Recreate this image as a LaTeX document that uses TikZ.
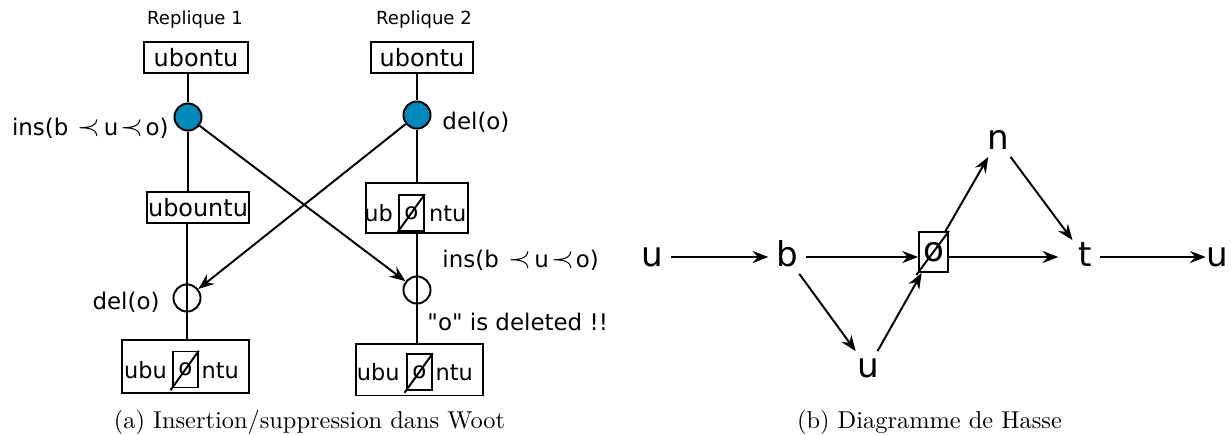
\documentclass[tikz,border=0pt]{standalone}
\usepackage{fontspec}
\setsansfont{DejaVu Sans}[Ligatures=TeXOff]
\usepackage{amssymb}
\usetikzlibrary{positioning, arrows.meta}

\definecolor{opblue}{RGB}{0,137,186}

\newcommand{\crossout}[1]{\draw[line width=0.8pt] ([shift={(-0.7pt,-0.8pt)}]#1.south west) -- (#1.north east);}
\newcommand{\precsym}{{\fontsize{12.5}{12}\selectfont$\prec$}}
\newcommand{\insop}{ins(b\hspace{3.8pt}\precsym\hspace{1.4pt}u\hspace{1pt}\precsym\hspace{0.8pt}o)}

\tikzset{
  wbox/.style={draw, line width=0.8pt, inner sep=0pt, font=\sffamily\fontsize{9.8}{12}\selectfont},
  slot/.style={draw, line width=0.6pt, inner sep=0pt, minimum width=10.3pt, minimum height=14.8pt, font=\sffamily\fontsize{9.4}{11}\selectfont},
  part/.style={inner sep=0pt, text height=7pt, text depth=0pt, font=\sffamily\fontsize{9.2}{11}\selectfont},
  op/.style={circle, draw, line width=0.8pt, minimum size=11.1pt, inner sep=0pt},
  lbl/.style={inner sep=0pt, font=\sffamily\fontsize{9.4}{11}\selectfont},
  letter/.style={inner sep=3pt, text height=7.4pt, text depth=0pt, font=\sffamily\fontsize{14}{16}\selectfont},
  arr/.style={line width=0.8pt, -{Stealth[length=6.5pt, width=5pt, inset=2.2pt]}},
  captext/.style={inner sep=0pt, font=\rmfamily\fontsize{10}{12}\selectfont}
}

\begin{document}
\begin{tikzpicture}[x=0.41pt, y=-0.41pt]
    \useasboundingbox (0,0) rectangle (1232,434);

    % Replicas
    \node[lbl, font=\sffamily\fontsize{7.4}{9}\selectfont] (rep1) at (195,20) {Replique 1};
    \node[lbl, font=\sffamily\fontsize{7.4}{9}\selectfont] (rep2) at (424,20) {Replique 2};

    \node[wbox, minimum width=42.4pt, minimum height=12.7pt] (s1) at (196,57.5) {ubontu};
    \node[wbox, minimum width=42pt, minimum height=12.7pt] (s2) at (422,57.5) {ubontu};

    % Operations
    \node[op, fill=opblue] (ins1) at (188,117) {};
    \node[op, fill=opblue] (del2) at (417,115) {};
    \node[op] (del1) at (187,298) {};
    \node[op] (ins2) at (417,290) {};

    % Intermediate states
    \node[wbox, minimum width=41.8pt, minimum height=12.7pt] (m1) at (198,207.5) {ubountu};
    \node[wbox, minimum width=41.8pt, minimum height=20.5pt] (m2) at (417,208) {};
    \node[slot] (m2o) at (411.5,213) {o};
    \node[part, left=2pt of m2o] (m2l) {ub};
    \node[part, right=1.6pt of m2o] (m2r) {ntu};
    \crossout{m2o}

    % Final states
    \node[wbox, minimum width=52.1pt, minimum height=21.7pt] (f1) at (185.5,366.5) {};
    \node[slot] (f1o) at (185.5,369.5) {o};
    \node[part, left=2pt of f1o] (f1l) {ubu};
    \node[part, right=1pt of f1o] (f1r) {ntu};
    \crossout{f1o}

    \node[wbox, minimum width=52.1pt, minimum height=21.3pt] (f2) at (419.5,369.5) {};
    \node[slot] (f2o) at (419.5,372) {o};
    \node[part, left=2.5pt of f2o] (f2l) {ubu};
    \node[part, right=1pt of f2o] (f2r) {ntu};
    \crossout{f2o}

    % Labels
    \node[lbl, anchor=east] (lins1) at (169,128) {\insop};
    \node[lbl, anchor=west] (ldel2) at (442,122) {del(o)};
    \node[lbl, anchor=east] (ldel1) at (160,302) {del(o)};
    \node[lbl, anchor=west] (lins2) at (442,260) {\insop};
    \node[lbl, anchor=west] (lnote) at (427,322) {"o" is deleted !!};

    % Time lines
    \draw[line width=0.8pt] (ins1 |- s1.south) -- (ins1) -- (ins1 |- m1.north);
    \draw[line width=0.8pt] (del1 |- m1.south) -- (del1 |- f1.north);
    \draw[line width=0.8pt] (del2 |- s2.south) -- (del2) -- (del2 |- m2.north);
    \draw[line width=0.8pt] (ins2 |- m2.south) -- (ins2 |- f2.north);

    % Remote operations
    \draw[arr] (ins1) -- (ins2);
    \draw[arr] (del2) -- (del1);

    % Hasse diagram
    \node[letter] (u1) at (652,257) {u};
    \node[letter] (b) at (787,257) {b};
    \node[draw, line width=0.8pt, inner sep=0pt, minimum width=11.9pt, minimum height=16.4pt,
          font=\sffamily\fontsize{14}{16}\selectfont] (o) at (933.5,252) {o};
    \crossout{o}
    \node[letter] (n) at (998,140) {n};
    \node[letter] (t) at (1085,257) {t};
    \node[letter] (u2) at (1217,257) {u};
    \node[letter] (u3) at (868,368) {u};

    \foreach \a/\b in {u1/b, b/u3, u3/o, o/n, n/t} {
      \draw[arr] (\a) -- (\b);
    }
    \draw[arr] (b) -- (b -| o.west);
    \draw[arr, shorten >=5pt] (o.east |- t) -- (t);
    \draw[arr, shorten >=-3pt] (t) -- (u2);

    % Captions
    \node[captext] (capa) at (309.5,422) {(a) Insertion/suppression dans Woot};
    \node[captext] (capb) at (929.5,422) {(b) Diagramme de Hasse};
\end{tikzpicture}
\end{document}
